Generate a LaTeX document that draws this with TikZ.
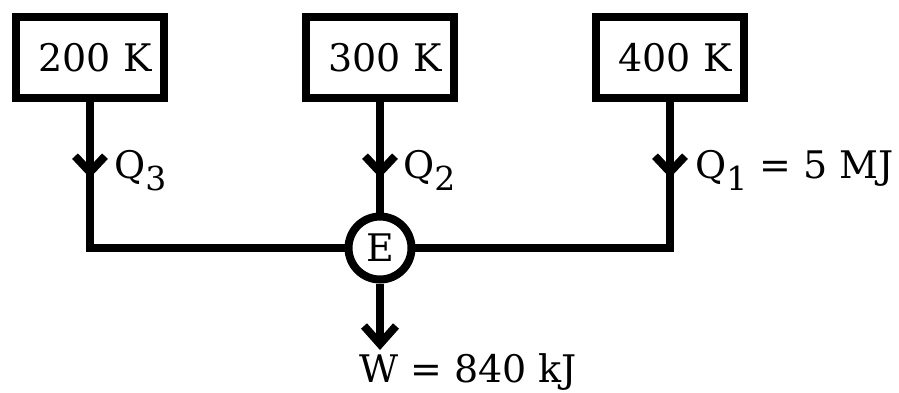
\documentclass[tikz,border=0pt]{standalone}
\usepackage{fontspec}
\setmainfont{DejaVu Serif}
\usetikzlibrary{arrows.meta,decorations.markings}
\newcommand{\mysub}[1]{\raisebox{-12pt}{\fontsize{33}{40}\selectfont #1}}
\begin{document}
\begin{tikzpicture}[x=1pt,y=-1pt,
  every node/.style={font=\fontsize{38}{46}\selectfont},
  reservoir/.style={draw,line width=8pt,minimum width=148pt,minimum height=81pt,inner sep=0pt,fill=white},
  engine/.style={draw,circle,line width=8pt,minimum size=63pt,inner sep=0pt,fill=white},
  conn/.style={line width=8pt},
  midarrow/.style={postaction={decorate},decoration={markings,
      mark=at position 76pt with {\arrow[line width=8pt]{Straight Barb[length=16pt,width=30pt]}}}},
  lbl/.style={anchor=base west,inner sep=0pt}]
\useasboundingbox (0,0) rectangle (899,392);
\node[reservoir] (b1) at (90,57.5) {\kern10pt 200 K};
\node[reservoir] (b2) at (380,57.5) {\kern10pt 300 K};
\node[reservoir] (b3) at (670,57.5) {\kern10pt 400 K};
\coordinate (c3) at (90,248);
\coordinate (c1) at (670,248);
\coordinate (wend) at (380,350);
\draw[conn,line join=miter] (b1.south) -- (c3) -- (380,248);
\draw[conn,line join=miter] (b3.south) -- (c1) -- (380,248);
\draw[conn,midarrow] (b1.south) -- (c3);
\draw[conn,midarrow] (b3.south) -- (c1);
\draw[conn,midarrow] (b2.south) -- (380,248);
\node[engine] (E) at (380,248) {E};
\draw[conn,-{Straight Barb[length=18pt,width=32pt]}] (E.south) -- (wend);
\node[lbl] (q3) at (114,178) {Q\mysub{3}};
\node[lbl] (q2) at (403,178) {Q\mysub{2}};
\node[lbl] (q1) at (695,178) {Q\mysub{1} = 5 MJ};
\node[lbl] (w) at (359,382) {W = 840 kJ};
\end{tikzpicture}
\end{document}
